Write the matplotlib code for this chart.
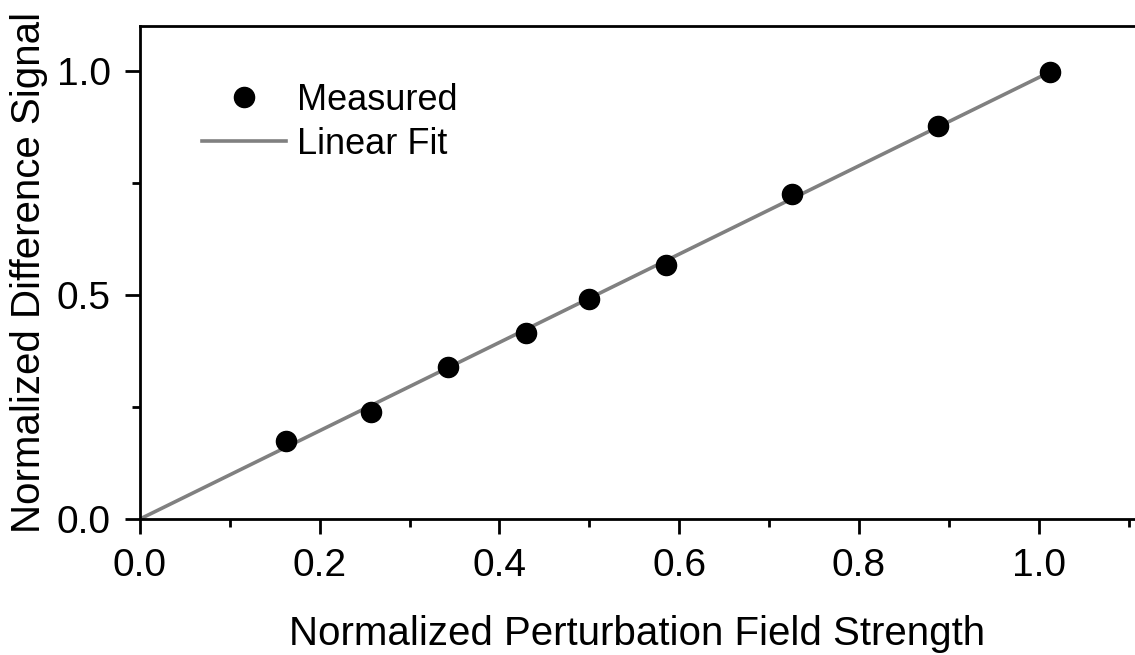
import matplotlib
matplotlib.use("Agg")
import matplotlib.pyplot as plt
import numpy as np
from matplotlib.ticker import MultipleLocator

plt.rcParams['font.family'] = ['Liberation Sans', 'DejaVu Sans']

# measured points
field = [0.163, 0.257, 0.343, 0.429, 0.500, 0.585, 0.725, 0.888, 1.012]
signal = [0.174, 0.239, 0.339, 0.415, 0.491, 0.567, 0.725, 0.877, 0.998]

# linear fit through the origin
xv = np.reshape(field, (-1, 1))
yv = np.reshape(signal, (-1, 1))
slope = np.linalg.lstsq(xv, yv, rcond=None)[0][0, 0]
xfit = np.array([0.0, max(field)])
yfit = slope * xfit

fig = plt.figure(figsize=(11.35, 6.55), dpi=100)
ax = fig.add_axes([0.1233, 0.2076, 0.8767, 0.7527])

ax.plot(xfit, yfit, color='#808080', lw=2.6, label='Linear Fit', zorder=2)
ax.plot(field, signal, 'o', color='black', ms=14.5, label='Measured', zorder=3)

ax.set_xlim(0, 1.107)
ax.set_ylim(0, 1.1)
ax.xaxis.set_major_locator(MultipleLocator(0.2))
ax.xaxis.set_minor_locator(MultipleLocator(0.1))
ax.yaxis.set_major_locator(MultipleLocator(0.5))
ax.yaxis.set_minor_locator(MultipleLocator(0.25))
ax.xaxis.set_major_formatter(plt.FormatStrFormatter('%.1f'))
ax.yaxis.set_major_formatter(plt.FormatStrFormatter('%.1f'))

for s in ['left', 'bottom', 'top']:
    ax.spines[s].set_linewidth(2)
ax.spines['right'].set_visible(False)
ax.tick_params(which='major', direction='out', length=11, width=2, labelsize=28, pad=10)
ax.tick_params(which='minor', direction='out', length=5.5, width=2)
ax.tick_params(top=False, right=False)

ax.set_xlabel('Normalized Perturbation Field Strength', fontsize=29, labelpad=22)
ax.set_ylabel('Normalized Difference Signal', fontsize=29, labelpad=6)

h, l = ax.get_legend_handles_labels()
ax.legend(h[::-1], l[::-1], loc='upper left', bbox_to_anchor=(0.062, 0.885),
          frameon=False, fontsize=26, handlelength=2.35, handletextpad=0.3,
          labelspacing=0.25, borderpad=0, borderaxespad=0)

fig.savefig('out.png', dpi=100)
